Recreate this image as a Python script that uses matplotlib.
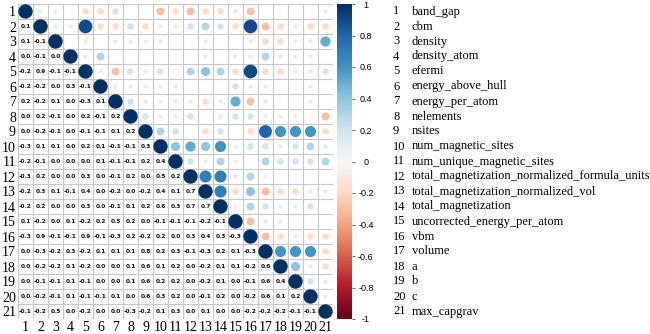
import numpy as np
import matplotlib as mpl
import matplotlib.pyplot as plt
from matplotlib.patches import Circle
from matplotlib.transforms import blended_transform_factory

# variable names
labels = ["band_gap", "cbm", "density", "density_atom", "efermi",
          "energy_above_hull", "energy_per_atom", "nelements", "nsites",
          "num_magnetic_sites", "num_unique_magnetic_sites",
          "total_magnetization_normalized_formula_units",
          "total_magnetization_normalized_vol", "total_magnetization",
          "uncorrected_energy_per_atom", "vbm", "volume", "a", "b", "c",
          "max_capgrav"]

# lower triangle of the correlation matrix (row 2 .. row 21)
lower = [
    [0.1],
    [0.1, -0.1],
    [0.0, -0.1, 0.0],
    [-0.2, 0.9, -0.1, -0.1],
    [-0.2, -0.2, 0.0, 0.3, -0.1],
    [0.2, -0.2, 0.1, 0.0, -0.3, 0.1],
    [0.0, 0.2, -0.1, 0.0, 0.2, -0.1, 0.2],
    [0.0, -0.2, -0.1, 0.0, -0.1, -0.1, 0.1, 0.2],
    [-0.3, 0.1, 0.1, 0.0, 0.2, 0.1, -0.1, -0.1, 0.3],
    [-0.2, -0.1, 0.0, 0.0, 0.0, 0.1, -0.1, -0.1, 0.2, 0.4],
    [-0.3, 0.2, 0.0, 0.0, 0.3, 0.0, -0.1, 0.2, 0.0, 0.5, 0.2],
    [-0.2, 0.3, 0.1, -0.1, 0.4, 0.0, -0.2, 0.0, -0.2, 0.4, 0.1, 0.7],
    [-0.2, 0.2, 0.0, 0.0, 0.3, 0.0, -0.1, 0.1, 0.2, 0.6, 0.3, 0.7, 0.7],
    [0.1, -0.2, 0.0, 0.1, -0.2, 0.2, 0.5, 0.2, 0.0, -0.1, -0.1, -0.1, -0.2, -0.1],
    [-0.3, 0.9, -0.1, -0.1, 0.9, -0.1, -0.3, 0.2, -0.2, 0.2, 0.0, 0.3, 0.4, 0.3, -0.3],
    [0.0, -0.3, -0.2, 0.3, -0.2, 0.1, 0.1, 0.1, 0.8, 0.2, 0.3, -0.1, -0.3, 0.2, 0.1, -0.3],
    [0.0, -0.2, -0.2, 0.1, -0.2, 0.0, 0.0, 0.1, 0.6, 0.1, 0.2, 0.0, -0.2, 0.1, 0.1, -0.2, 0.6],
    [0.0, -0.1, -0.1, 0.1, -0.1, 0.0, 0.0, 0.1, 0.6, 0.2, 0.2, 0.0, -0.2, 0.1, 0.0, -0.1, 0.6, 0.4],
    [0.0, -0.2, -0.1, 0.1, -0.1, -0.1, 0.1, 0.0, 0.6, 0.3, 0.2, 0.0, -0.1, 0.2, 0.0, -0.2, 0.6, 0.1, 0.2],
    [-0.1, -0.2, 0.5, 0.0, -0.2, 0.0, 0.0, -0.3, -0.2, 0.1, 0.3, 0.0, 0.1, 0.0, 0.0, -0.2, -0.2, -0.2, -0.1, -0.1],
]

colorbar_ticks = [1, 0.8, 0.6, 0.4, 0.2, 0, -0.2, -0.4, -0.6, -0.8, -1]

n = len(labels)
corr = np.eye(n)
for i, row in enumerate(lower, start=1):
    corr[i, :i] = row
    corr[:i, i] = row

serif = "Liberation Serif"
cmap = plt.get_cmap("RdBu")
norm = mpl.colors.Normalize(-1, 1)

W, H = 650, 334
fig = plt.figure(figsize=(W / 100, H / 100), dpi=100)
ax = fig.add_axes([18 / W, 1 - 319 / H, 315 / W, 315 / H])
ax.set_xlim(0.5, n + 0.5)
ax.set_ylim(n + 0.5, 0.5)

# grid
for k in range(n + 1):
    ax.axhline(k + 0.5, color="#c8c8c8", lw=0.8, zorder=1)
    ax.axvline(k + 0.5, color="#c8c8c8", lw=0.8, zorder=1)

# circles on the upper triangle, numbers on the lower one
for i in range(n):
    for j in range(n):
        r = corr[i, j]
        if j >= i:
            if r == 0:
                continue
            ax.add_patch(Circle((j + 1, i + 1), 0.48 * np.sqrt(abs(r)),
                                color=cmap(norm(r)), lw=0, zorder=2))
        else:
            ax.text(j + 1, i + 1, f"{r:.1f}", ha="center", va="center",
                    fontsize=4.2, color="#111111", fontweight="bold")

ax.set_xticks(range(1, n + 1))
ax.set_yticks(range(1, n + 1))
ax.set_xticklabels([str(k) for k in range(1, n + 1)], family=serif, fontsize=10)
ax.set_yticklabels([str(k) for k in range(1, n + 1)], family=serif, fontsize=10)
ax.tick_params(length=0, pad=1.5)
for s in ax.spines.values():
    s.set_visible(False)

# colour bar
cax = fig.add_axes([337 / W, 1 - 319 / H, 15 / W, 315 / H])
cb = mpl.colorbar.ColorbarBase(cax, cmap=cmap, norm=norm, ticks=colorbar_ticks)
cb.outline.set_visible(False)
cb.set_ticklabels([f"{t:g}" for t in colorbar_ticks])
cax.tick_params(length=2.5, width=0.6, color="#555555", pad=7.5, labelsize=6.5)
for t in cax.get_yticklabels():
    t.set_horizontalalignment("center")
    t.set_family("Liberation Sans")

# legend of variable names
tr = blended_transform_factory(fig.transFigure, ax.transData)
for k, name in enumerate(labels):
    ax.text(393 / W, k + 1, str(k + 1), transform=tr, ha="left", va="center",
            family=serif, fontsize=9)
    ax.text(412 / W, k + 1, name, transform=tr, ha="left", va="center",
            family=serif, fontsize=9)

fig.savefig("out.png", dpi=100)
